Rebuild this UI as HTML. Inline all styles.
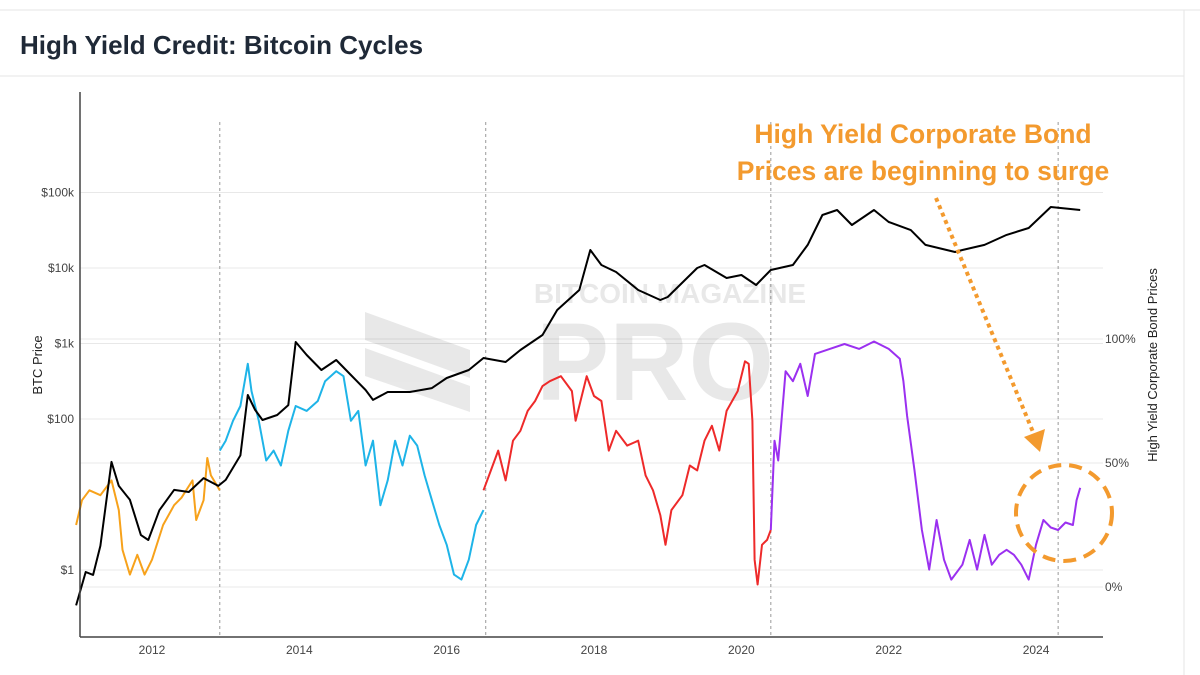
<!DOCTYPE html>
<html><head><meta charset="utf-8"><style>
body{margin:0;background:#fff;font-family:"Liberation Sans",sans-serif;}
#wrap{position:relative;width:1200px;height:675px;overflow:hidden;background:#fff}
</style></head><body>
<div id="wrap">
<svg id="svg" width="1200" height="675" xmlns="http://www.w3.org/2000/svg">
<line x1="0" y1="10" x2="1200" y2="10" stroke="#e6e6e6"/>
<line x1="0" y1="76" x2="1184" y2="76" stroke="#e6e6e6"/>
<line x1="1184" y1="10" x2="1184" y2="675" stroke="#e6e6e6"/>
<text x="20" y="54" font-size="26" font-weight="bold" fill="#1f2937">High Yield Credit: Bitcoin Cycles</text>
<g id="grid"></g>
<g opacity="0.13">
<text x="670" y="303" font-size="28" font-weight="bold" text-anchor="middle" fill="#555">BITCOIN MAGAZINE</text>
<text x="655" y="400" font-size="110" font-weight="bold" text-anchor="middle" fill="#555">PRO</text>
<polygon points="365,312 470,350 470,378 365,340" fill="#555"/>
<polygon points="365,348 470,386 470,412 365,376" fill="#555"/>
</g>
<g id="series"></g>
<line x1="80" y1="92" x2="80" y2="637" stroke="#444" stroke-width="1.5"/>
<line x1="80" y1="637" x2="1103" y2="637" stroke="#444" stroke-width="1.5"/>
<g id="axes"></g>
<text transform="translate(42,365) rotate(-90)" font-size="13" text-anchor="middle" fill="#222">BTC Price</text>
<text transform="translate(1157,365) rotate(-90)" font-size="13" text-anchor="middle" fill="#222">High Yield Corporate Bond Prices</text>
<text x="923" y="143" font-size="26.5" font-weight="bold" text-anchor="middle" fill="#f39a2e">High Yield Corporate Bond</text>
<text x="923" y="180" font-size="26.5" font-weight="bold" text-anchor="middle" fill="#f39a2e">Prices are beginning to surge</text>
<line x1="936" y1="198" x2="1033" y2="432" stroke="#f39a2e" stroke-width="4" stroke-dasharray="4,4"/>
<polygon points="1024,437 1045,429 1040,452" fill="#f39a2e"/>
<circle cx="1064" cy="513" r="48" fill="none" stroke="#f39a2e" stroke-width="4" stroke-dasharray="13,8"/>
</svg>
</div>
<script>
const btcYears=[2010.97,2011.1,2011.2,2011.3,2011.45,2011.55,2011.7,2011.85,2011.95,2012.1,2012.3,2012.5,2012.7,2012.9,2013.0,2013.2,2013.3,2013.4,2013.5,2013.7,2013.85,2013.95,2014.1,2014.3,2014.5,2014.7,2014.9,2015.0,2015.2,2015.5,2015.8,2016.0,2016.3,2016.5,2016.8,2017.0,2017.3,2017.5,2017.8,2017.95,2018.1,2018.3,2018.6,2018.9,2019.0,2019.4,2019.5,2019.8,2020.0,2020.2,2020.4,2020.7,2020.9,2021.1,2021.3,2021.5,2021.8,2022.0,2022.3,2022.5,2022.9,2023.0,2023.3,2023.6,2023.9,2024.2,2024.6];
const btcPrices=[0.34,0.94,0.86,2.1,27,13,8.5,2.9,2.5,6.2,11.5,10.8,16.5,13,15.6,33,208,132,97,113,153,1047,705,446,604,383,242,179,228,228,257,349,446,643,569,820,1297,2780,5120,17300,10960,8850,5120,3770,4130,10000,10960,7380,8070,5960,9420,10960,20200,50400,58700,37100,58700,40700,31800,20200,16300,17300,20200,27400,33900,64300,58700];
const orangeYears=[2010.97,2011.05,2011.15,2011.3,2011.45,2011.55,2011.6,2011.7,2011.8,2011.9,2012.0,2012.15,2012.3,2012.4,2012.55,2012.6,2012.7,2012.75,2012.8,2012.92];
const orangePct=[25,35,39,37,43,31,15,5,13,5,11,25,33,36,43,27,35,52,45,39];
const blueYears=[2012.92,2013.0,2013.1,2013.2,2013.3,2013.35,2013.45,2013.55,2013.65,2013.75,2013.85,2013.95,2014.1,2014.25,2014.35,2014.5,2014.6,2014.7,2014.8,2014.9,2015.0,2015.1,2015.2,2015.3,2015.4,2015.5,2015.6,2015.7,2015.8,2015.9,2016.0,2016.1,2016.2,2016.3,2016.4,2016.5];
const bluePct=[55,59,67,73,90,79,67,51,55,49,63,73,71,75,83,87,85,67,71,49,59,33,43,59,49,61,57,45,35,25,17,5,3,11,25,31];
const redYears=[2016.5,2016.6,2016.7,2016.8,2016.9,2017.0,2017.1,2017.2,2017.3,2017.4,2017.55,2017.7,2017.75,2017.9,2018.0,2018.1,2018.2,2018.3,2018.45,2018.6,2018.7,2018.8,2018.9,2018.97,2019.05,2019.2,2019.3,2019.4,2019.5,2019.6,2019.7,2019.8,2019.95,2020.05,2020.1,2020.15,2020.18,2020.22,2020.28,2020.35,2020.4];
const redPct=[39,47,55,43,59,63,71,75,81,83,85,79,67,85,77,75,55,63,57,59,45,39,29,17,31,37,49,47,59,65,55,71,79,91,90,67,11,1,17,19,23];
const purpleYears=[2020.4,2020.45,2020.5,2020.6,2020.7,2020.8,2020.9,2021.0,2021.2,2021.4,2021.6,2021.8,2022.0,2022.15,2022.2,2022.25,2022.35,2022.45,2022.55,2022.65,2022.75,2022.85,2023.0,2023.1,2023.2,2023.3,2023.4,2023.5,2023.6,2023.7,2023.8,2023.9,2024.0,2024.1,2024.2,2024.3,2024.4,2024.5,2024.55,2024.6];
const purplePct=[23,59,51,87,83,90,77,94,96,98,96,99,96,92,83,69,47,23,7,27,11,3,9,19,7,21,9,13,15,13,9,3,17,27,24,23,26,25,35,40];
const xTickYears=[2012,2014,2016,2018,2020,2022,2024];
const xTickLabels=["2012","2014","2016","2018","2020","2022","2024"];
const yTickVals=[1,100,1000,10000,100000];
const yTickLabels=["$1","$100","$1k","$10k","$100k"];
const rTickVals=[0,50,100];
const rTickLabels=["0%","50%","100%"];
const cycleBoundaries=[2012.92,2016.53,2020.4,2024.3];

const NS="http://www.w3.org/2000/svg";
const xS=y=>152+(y-2012)*73.67;
const yL=p=>570-Math.log10(p)*75.5;
const yR=p=>587-p*2.48;
function mk(tag,attrs,parent){const e=document.createElementNS(NS,tag);for(const k in attrs)e.setAttribute(k,attrs[k]);parent.appendChild(e);return e;}
const grid=document.getElementById('grid'),series=document.getElementById('series'),axes=document.getElementById('axes');
yTickVals.forEach((v,i)=>{
  const l=mk('line',{x1:80,x2:1103,y1:yL(v),y2:yL(v),stroke:'#e8e8e8'},grid);
  
  
  const t=mk('text',{x:74,y:yL(v)+4,'font-size':12,'text-anchor':'end',fill:'#444'},axes);
  t.textContent=yTickLabels[i];
  
  
});
rTickVals.forEach((v,i)=>{
  const l=mk('line',{x1:80,x2:1103,y1:yR(v),y2:yR(v),stroke:'#e8e8e8'},grid);
  
  
  const t=mk('text',{x:1105,y:yR(v)+4,'font-size':12,fill:'#444'},axes);
  t.textContent=rTickLabels[i];
  
  
});
xTickYears.forEach((v,i)=>{
  const t=mk('text',{x:xS(v),y:654,'font-size':12,'text-anchor':'middle',fill:'#444'},axes);
  t.textContent=xTickLabels[i];
  
  
});
cycleBoundaries.forEach(v=>{
  const l=mk('line',{x1:xS(v),x2:xS(v),y1:122,y2:637,stroke:'#999','stroke-dasharray':'3,3'},grid);
  
  
});
function line(xs,ys,fy,color,name){
  const pts=xs.map((x,i)=>xS(x).toFixed(1)+','+fy(ys[i]).toFixed(1)).join(' ');
  const p=mk('polyline',{points:pts,fill:'none',stroke:color,'stroke-width':2,'stroke-linejoin':'round'},series);
  
  
}
line(orangeYears,orangePct,yR,'#f7a21b','cycle-1-line');
line(blueYears,bluePct,yR,'#1eb4e8','cycle-2-line');
line(redYears,redPct,yR,'#ee2a2a','cycle-3-line');
line(purpleYears,purplePct,yR,'#9b30f0','cycle-4-line');
line(btcYears,btcPrices,yL,'#000','btc-price-line');
</script>
</body></html>
